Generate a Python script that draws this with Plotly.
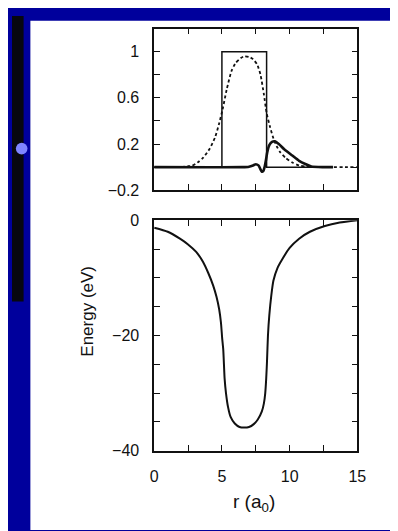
import plotly.graph_objects as go

W, H = 398, 531

# ---------- data ----------
# upper panel: square profile
rect_r = [0, 5, 5, 8.3, 8.3, 13.2]
rect_v = [0, 0, 1, 1, 0, 0]

# upper panel: dashed curve
dash_r = [0, 2, 2.5, 2.8, 3.2, 3.6, 4.1, 4.5, 4.8, 5.05, 5.35, 5.7, 6.0, 6.4, 6.65, 7.0, 7.3, 7.6,
          7.85, 8.1, 8.3, 8.55, 8.8, 9.05, 9.3, 9.7, 10.2, 10.7, 11.2, 12, 15]
dash_v = [0, 0.003, 0.008, 0.012, 0.04, 0.08, 0.16, 0.26, 0.38, 0.5, 0.67, 0.83, 0.9, 0.945, 0.96,
          0.955, 0.935, 0.89, 0.8, 0.63, 0.47, 0.35, 0.25, 0.18, 0.13, 0.08, 0.04, 0.015, 0.005, 0, 0]

# upper panel: thick solid curve
wave_r = [0, 6.5, 7.0, 7.3, 7.5, 7.7, 7.85, 7.95, 8.05, 8.15, 8.25, 8.35, 8.5, 8.7, 8.9, 9.2,
          9.6, 10.2, 10.7, 11.2, 11.6, 12.5, 13.2]
wave_v = [0, 0, 0.004, 0.015, 0.025, 0.015, -0.02, -0.04, -0.035, 0.0, 0.06, 0.13, 0.19, 0.218,
          0.224, 0.2, 0.155, 0.1, 0.055, 0.025, 0.005, 0, 0]

# lower panel: energy (eV) vs r (a0)
e_r = [0, 1.0, 1.9, 2.5, 3.1, 3.6, 4.0, 4.35, 4.6, 4.8, 4.93, 5.02, 5.1, 5.2, 5.3, 5.45, 5.65,
       5.95, 6.3, 6.65, 7.0, 7.35, 7.65, 7.95, 8.1, 8.2, 8.27, 8.33, 8.4, 8.5, 8.65, 8.8, 9.1,
       9.5, 10.0, 10.7, 11.5, 12.6, 13.7, 15]
e_v = [-1.3, -2.0, -3.2, -4.2, -5.5, -7.2, -9.2, -11.3, -13.3, -15.5, -17.8, -20.5, -22.5, -27.5,
       -30.0, -32.4, -34.2, -35.3, -35.9, -36.0, -35.9, -35.4, -34.6, -33.2, -31.8, -30.0, -27.5,
       -24.5, -20.0, -16.5, -13.0, -10.5, -8.3, -6.6, -4.8, -3.2, -2.0, -1.0, -0.4, 0]

up_yticks = [-0.2, 0.2, 0.6, 1]
up_ytext = ["\u22120.2", "0.2", "0.6", "1"]
up_yminor = [0, 0.4, 0.8]
x_ticks = [0, 5, 10, 15]
x_text = ["0", "5", "10", "15"]
x_minor = [2.5, 7.5, 12.5]
lo_yticks = [0, -20, -40]
lo_ytext = ["0", "\u221220", "\u221240"]
lo_yminor = [-5, -10, -15, -25, -30, -35]

# ---------- figure ----------
fig = go.Figure()
blk = "#111111"
fig.add_trace(go.Scatter(x=dash_r, y=dash_v, mode="lines", xaxis="x", yaxis="y",
                         line=dict(color=blk, width=1.8, dash="3px,2.5px", shape="spline", smoothing=0.6)))
fig.add_trace(go.Scatter(x=rect_r, y=rect_v, mode="lines", xaxis="x", yaxis="y",
                         line=dict(color=blk, width=1.5)))
fig.add_trace(go.Scatter(x=wave_r, y=wave_v, mode="lines", xaxis="x", yaxis="y",
                         line=dict(color=blk, width=2.6, shape="spline", smoothing=0.6)))
fig.add_trace(go.Scatter(x=e_r, y=e_v, mode="lines", xaxis="x2", yaxis="y2",
                         line=dict(color=blk, width=2, shape="spline", smoothing=0.6)))

px = lambda v: v / W
py = lambda v: 1 - v / H

ff = "Liberation Sans, Arial, sans-serif"
font = dict(family=ff, size=16, color="#111111")


def ax(minor_vals, **kw):
    d = dict(showline=True, linecolor=blk, linewidth=1.5, mirror="allticks", ticks="inside",
             ticklen=6, tickwidth=1.2, tickcolor=blk, showgrid=False, zeroline=False,
             tickfont=font, tickmode="array",
             minor=dict(tickmode="array", tickvals=minor_vals, ticks="inside", ticklen=6,
                        tickwidth=1.2, tickcolor=blk, showgrid=False))
    d.update(kw)
    return d


fig.update_layout(
    width=W, height=H, showlegend=False,
    paper_bgcolor="#00009c", plot_bgcolor="white",
    margin=dict(l=0, r=0, t=0, b=0, pad=0),
    xaxis=ax(x_minor, domain=[px(147), px(357)], range=[0, 15], anchor="y", tickvals=x_ticks,
             showticklabels=False),
    yaxis=ax(up_yminor, domain=[py(180), py(13)], range=[-0.2, 1.2], anchor="x",
             tickvals=up_yticks, ticktext=up_ytext, ticklabelstandoff=10),
    xaxis2=ax(x_minor, domain=[px(147), px(357)], range=[0, 15], anchor="y2", tickvals=x_ticks,
              ticktext=x_text, ticklabelstandoff=10),
    yaxis2=ax(lo_yminor, domain=[py(449), py(211)], range=[-40, 0], anchor="x2",
              tickvals=lo_yticks, ticktext=lo_ytext, ticklabelstandoff=10),
    shapes=[
        dict(type="rect", xref="paper", yref="paper", x0=px(19), x1=px(395), y0=0, y1=py(5),
             fillcolor="white", line=dict(width=0), layer="below"),
        dict(type="rect", xref="paper", yref="paper", x0=0, x1=px(12), y0=py(295), y1=1,
             fillcolor="#07070f", line=dict(width=0), layer="below"),
        dict(type="circle", xref="paper", yref="paper", x0=px(4), x1=px(16), y0=py(143), y1=py(131),
             fillcolor="#7f86ff", line=dict(width=0), layer="below"),
    ],
    annotations=[
        dict(text="Energy (eV)", xref="paper", yref="paper", x=px(78), y=py(305), showarrow=False,
             textangle=-90, font=dict(family=ff, size=17, color="#111111"),
             xanchor="center", yanchor="middle"),
        dict(text="r (a<sub>0</sub>)", xref="paper", yref="paper", x=px(250), y=py(503), showarrow=False,
             font=dict(family=ff, size=19, color="#111111"),
             xanchor="center", yanchor="middle"),
    ],
)

fig.write_html("out.html")
